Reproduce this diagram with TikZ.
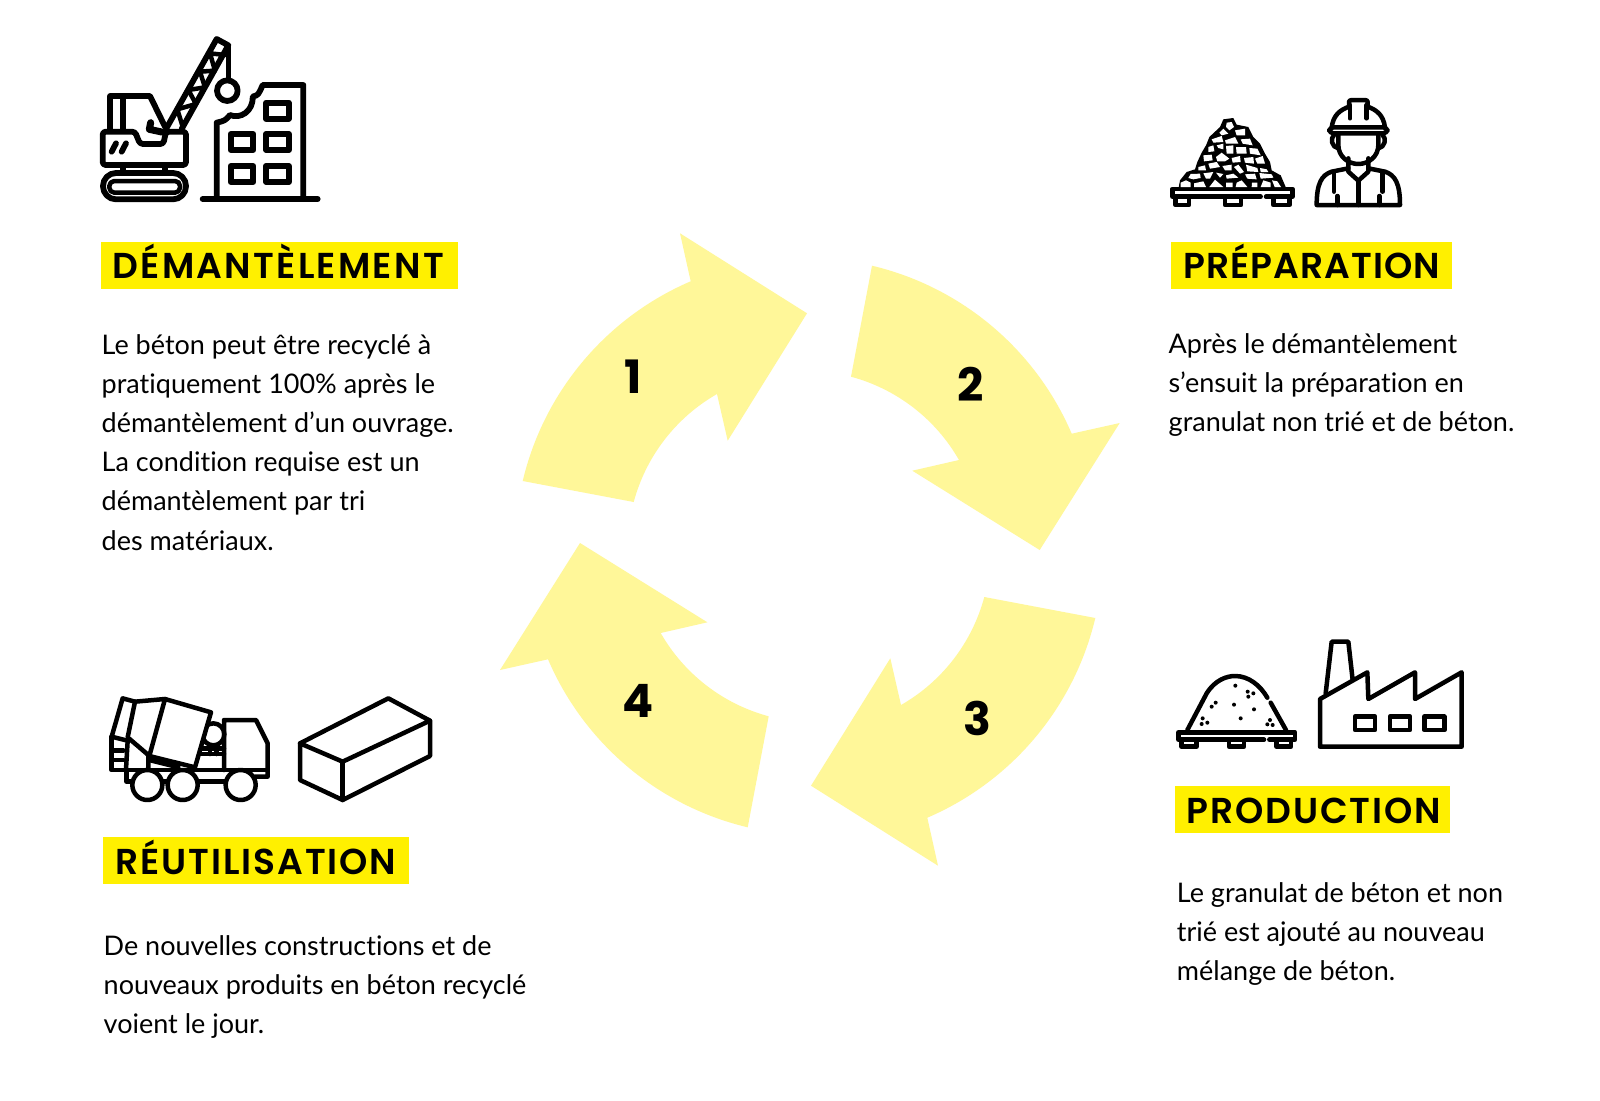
\documentclass[tikz,border=0pt]{standalone}
\usepackage{fontspec}
\setmainfont{Lato}[Ligatures=NoCommon]
\newfontfamily\hdfont{Poppins}[UprightFont=*-SemiBold]
\newfontfamily\numfont{Poppins}[UprightFont=*-Bold]
\definecolor{arrowyel}{HTML}{FFF799}
\definecolor{boxyel}{HTML}{FFF000}
\tikzset{
  x=1pt,y=-1pt,
  flow/.style={fill=arrowyel,draw=none},
  iconB/.style={line width=4.5pt,line join=round,line cap=round},
  iconA/.style={line width=5.8pt,line join=round,line cap=round},
  headbox/.style={fill=boxyel,inner sep=0pt,anchor=north west},
  headtxt/.style={anchor=base west,inner sep=0pt,font=\hdfont\fontsize{36}{36}\selectfont,text=black},
  bodytxt/.style={anchor=north west,align=left,inner sep=0pt,font=\fontsize{27}{39.2}\selectfont,text=black},
  numtxt/.style={font=\numfont\fontsize{46}{46}\selectfont,text=black,inner sep=0pt},
  zoomcrop/.style={x=.33333pt,y=-.33333pt},
}
\newcommand{\cyclearrow}[3]{%
  \begin{scope}[shift={(#2,#3)},rotate around={-#1:(805,548)}]
  \fill[flow] (522.7,481) .. controls (543.9,391.7) and (606.3,317.5) .. (690.7,281.3)
    -- (680,233.3) -- (807,313.3) -- (727.7,440.7) -- (717,394)
    .. controls (675.9,417.5) and (646,456.3) .. (633.7,502) -- cycle;
  \end{scope}}
\newcommand{\boxat}[5]{\node[headbox,minimum width=#4pt,minimum height=#5pt] (#1) at (#2,#3) {};}
\begin{document}
\begin{tikzpicture}
\useasboundingbox (0,0) rectangle (1600,1100);
\fill[white] (0,0) rectangle (1600,1100);
% arrows
\cyclearrow{0}{0}{0}
\cyclearrow{90}{0}{0}
\cyclearrow{180}{8}{3}
\cyclearrow{270}{9.7}{-3}
\node[numtxt] (n1) at (633,377) {1};
\node[numtxt] (n2) at (971,384) {2};
\node[numtxt] (n3) at (977.5,718) {3};
\node[numtxt] (n4) at (637.7,700.5) {4};
% headings
\boxat{b1}{100.7}{241.3}{357.3}{47}
\boxat{b2}{1170.5}{241.3}{281.5}{47}
\boxat{b3}{1174.5}{786}{275.5}{47}
\boxat{b4}{103}{837}{306}{47}
\node[headtxt] (h1) at (112.5,278.3) {\addfontfeature{LetterSpace=6.3}DÉMANTÈLEMENT};
\node[headtxt] (h2) at (1183,278.3) {\addfontfeature{LetterSpace=3}PRÉPARATION};
\node[headtxt] (h3) at (1186.5,823) {\addfontfeature{LetterSpace=5.3}PRODUCTION};
\node[headtxt] (h4) at (115,874) {\addfontfeature{LetterSpace=5.4}RÉUTILISATION};
% body
\node[bodytxt] (t1) at (101.5,334) {Le béton peut être recyclé à\\pratiquement 100\% après le\\démantèlement d’un ouvrage.\\La condition requise est un\\démantèlement par tri\\des matériaux.};
\node[bodytxt] (t2) at (1168.5,333) {Après le démantèlement\\s’ensuit la préparation en\\granulat non trié et de béton.};
\node[bodytxt] (t3) at (1176.7,882) {Le granulat de béton et non\\trié est ajouté au nouveau\\mélange de béton.};
\node[bodytxt] (t4) at (103.5,935) {De nouvelles constructions et de\\nouveaux produits en béton recyclé\\voient le jour.};
% crane icon
\begin{scope}[shift={(90,30)},zoomcrop,iconA]
\draw (338,507)--(683,507);
\draw (380,505)--(380,278) .. controls (405,272) .. (420,255) .. controls (450,268) and (490,245) .. (488,200) .. controls (505,195) .. (518,165)--(640,165)--(640,505);
\foreach \a/\b in {528/218,422/312,528/312,422/408,528/408}{
 \draw (\a,\b) rectangle ++(68,48);}
\draw (60,300)--(60,198)--(180,198)--(225,290);
\draw (100,198)--(100,298);
\draw[rounded corners=3pt] (38,405)--(38,305)--(135,305)--(150,342)--(220,342)--(228,305)--(288,305)--(288,405)--cycle;
\draw (65,365)--(78,340) (95,365)--(108,340);
\draw (100,405)--(100,429) (225,405)--(225,429);
\draw[rounded corners=13pt] (39,429) rectangle (288,508);
\draw[rounded corners=5pt,line width=4.5pt] (58,453) rectangle (270,488);
\draw (228,297)--(380,27)--(415,46)--(275,297);
\draw[line width=4.5pt] (278,290)--(262,238)--(318,222)--(295,180)--(345,172)--(330,125)--(375,122)--(360,70)--(405,75);
\draw[line width=4.5pt] (415,46)--(415,150);
\draw (412,182) circle[radius=10.3pt];
\draw[line width=7pt] (182,278)--(178,298)--(215,306);
\end{scope}
% rubble icon: pallet
\begin{scope}[shift={(1160,90)},zoomcrop,iconB]
\draw (302,320)--(37,320)--(37,297)--(397,297)--(397,320)--(318,320);
\draw (47,323)--(47,345)--(87,345)--(87,323) (195,323)--(195,345)--(243,345)--(243,323) (340,323)--(340,345)--(388,345)--(388,323);
\end{scope}
% rubble icon: stones
\begin{scope}[shift={(1170,112)},zoomcrop]
\fill[line join=round] (25,232)--(30,205)--(50,180)--(75,172)--(82,150)--(95,122)--(108,100)--(118,75)--(150,45)--(160,22)--(190,18)--(200,38)--(235,45)--(250,75)--(270,95)--(285,125)--(300,150)--(305,175)--(332,190)--(350,232)--cycle;
\fill[white] (32,225)--(32,212)--(48,205)--(62,212)--(62,225)--cycle
 (72,225)--(72,214)--(100,208)--(108,225)--cycle
 (118,225)--(135,203)--(160,225)--cycle
 (168,225)--(168,212)--(188,212)--(188,225)--cycle
 (197,225)--(200,212)--(215,205)--(232,225)--cycle
 (245,225)--(246,212)--(262,212)--(262,225)--cycle
 (272,225)--(280,205)--(302,212)--(302,225)--cycle
 (314,225)--(306,205)--(322,208)--(333,225)--cycle
 (55,198)--(62,186)--(90,185)--(92,198)--(70,202)--cycle
 (100,184)--(130,180)--(120,200)--(108,200)--cycle
 (138,182)--(160,186)--(150,197)--cycle
 (168,190)--(190,185)--(205,197)--(170,200)--cycle
 (225,187)--(255,185)--(260,202)--(232,200)--cycle
 (268,183)--(305,187)--(310,197)--(272,200)--cycle
 (85,165)--(105,160)--(108,175)--(85,175)--cycle
 (115,155)--(140,150)--(150,165)--(120,170)--cycle
 (157,162)--(185,158)--(185,175)--(165,175)--cycle
 (192,165)--(205,158)--(222,180)--(210,185)--cycle
 (228,158)--(262,168)--(265,180)--(232,178)--cycle
 (270,168)--(290,172)--(295,180)--(272,180)--cycle
 (100,130)--(125,128)--(128,145)--(102,148)--cycle
 (138,135)--(155,122)--(178,140)--(165,148)--(142,148)--cycle
 (185,138)--(210,132)--(212,150)--(188,152)--cycle
 (222,138)--(250,135)--(252,155)--(225,152)--cycle
 (255,140)--(278,132)--(285,155)--(262,155)--cycle
 (115,105)--(130,100)--(133,118)--(115,120)--cycle
 (140,100)--(160,95)--(160,112)--(145,108)--cycle
 (168,102)--(190,100)--(190,125)--(170,125)--cycle
 (198,105)--(228,105)--(230,125)--(200,125)--cycle
 (238,108)--(262,110)--(272,130)--(240,125)--cycle
 (125,82)--(155,72)--(160,90)--(130,92)--cycle
 (165,85)--(195,75)--(205,95)--(168,95)--cycle
 (212,82)--(240,80)--(248,100)--(218,95)--cycle
 (148,62)--(160,50)--(175,65)--(155,70)--cycle
 (195,55)--(225,50)--(225,70)--(200,70)--cycle
 (170,32)--(185,30)--(192,45)--(178,55)--(168,45)--cycle;
\end{scope}
% worker icon
\begin{scope}[shift={(1160,90)},zoomcrop,iconB]
\draw (515,112) .. controls (520,75) and (540,60) .. (567,50) -- (567,38) .. controls (567,32) .. (575,30)--(615,30) .. controls (623,32) .. (623,38) -- (623,50) .. controls (650,60) and (670,75) .. (675,112);
\draw (570,45)--(570,85) (620,45)--(620,85);
\draw[rounded corners=4pt] (508,112) rectangle (682,130);
\draw (535,130)--(535,165) .. controls (535,200) and (565,222) .. (595,222) .. controls (625,222) and (655,200) .. (655,165)--(655,130);
\draw (522,135) .. controls (510,145) and (515,172) .. (535,175) (668,135) .. controls (680,145) and (675,172) .. (655,175);
\draw (565,205)--(565,245)--(595,272)--(625,245)--(625,205);
\draw (565,235)--(515,245) .. controls (485,255) and (470,280) .. (470,345)--(720,345) .. controls (720,280) and (705,255) .. (675,245)--(625,235);
\draw (595,272)--(595,345);
\draw (522,248)--(522,305) (532,318)--(532,345) (668,248)--(668,305) (658,318)--(658,345);
\end{scope}
% sand icon
\begin{scope}[shift={(1160,630)},zoomcrop,iconB]
\draw (312,329)--(55,329)--(55,307)--(405,307)--(405,329)--(328,329);
\draw (65,331)--(65,350)--(110,350)--(110,331) (207,331)--(207,350)--(252,350)--(252,331) (350,331)--(350,350)--(393,350)--(393,331);
\draw (82,300)--(140,190) .. controls (165,150) and (200,138) .. (225,138) .. controls (265,138) and (300,165) .. (322,203);
\draw (332,218)--(378,300);
\foreach \a/\b in {226/167,263/185,280/190,265/200,167/218,155/230,222/224,282/238,242/265,128/265,125/282,142/278,330/270,322/283,338/285}{
 \fill (\a,\b) circle[radius=2pt];}
% factory
\draw (497,190)--(515,35)--(565,35)--(578,150);
\draw (480,207)--(622,127)--(625,207)--(765,127)--(765,207)--(905,127)--(905,350)--(480,350)--cycle;
\foreach \a in {585,690,793}{
 \draw (\a,260) rectangle ++(60,40);}
\end{scope}
% truck and brick
\begin{scope}[shift={(100,680)},zoomcrop,iconB]
\draw (340,163) circle[radius=11pt];
\draw[fill=white] (195,57)--(333,97)--(285,262)--(148,228)--cycle;
\draw (195,57)--(105,65)--(83,172)--(145,225)--(145,270);
\draw (105,65)--(68,55)--(35,170)--(83,182)--(78,268);
\draw (35,170)--(35,270)--(500,270);
\draw (35,212)--(70,212) (35,240)--(70,240);
\draw (148,240)--(235,262);
\draw (372,270)--(372,120)--(468,120)--(503,190)--(503,290)--(465,290);
\draw (80,270)--(80,305)--(95,305) (190,305)--(205,305) (295,305)--(375,305);
\draw (305,205)--(372,205) (300,222)--(372,222) (330,205)--(330,222) (350,205)--(350,222);
\draw[fill=white] (142,315) circle[radius=15pt] (248,315) circle[radius=15pt] (422,315) circle[radius=15pt];
\draw (600,190)--(865,55)--(990,122)--(728,245)--cycle;
\draw (600,190)--(600,300)--(728,360)--(990,228)--(990,122);
\draw (728,245)--(728,360);
\end{scope}
\end{tikzpicture}
\end{document}
